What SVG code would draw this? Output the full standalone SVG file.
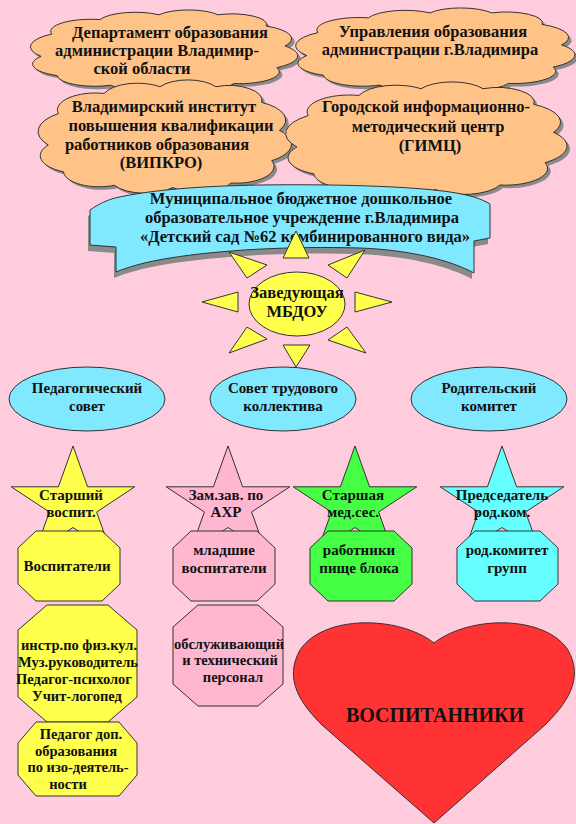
<svg xmlns="http://www.w3.org/2000/svg" xmlns:xlink="http://www.w3.org/1999/xlink" width="576" height="824" viewBox="0 0 576 824">
<style>
.t{font-family:"Liberation Serif","Times New Roman",serif;font-weight:bold;font-size:16.5px;fill:#111;text-anchor:middle}
.m{font-size:15px}
.s{font-size:14.5px}
.ol{stroke:#333;stroke-width:1}
.cl{fill:#FFC287}
.sh{fill:#8a8a8a}
.cy{fill:#80E8FF}
.ye{fill:#FFFF4D}
.pk{fill:#FFB6CF}
.gr{fill:#44FF44}
.cn{fill:#66FFFF}
</style>
<defs>
<path id="cloud" vector-effect="non-scaling-stroke" d="M6,58 A20,20 0 0 1 10,30 A15,15 0 0 1 28,12 A14,14 0 0 1 50,6 A13,13 0 0 1 72,6 A13,13 0 0 1 90,20 A18,18 0 0 1 97,45 A18,18 0 0 1 94,72 A15,15 0 0 1 78,92 A14,14 0 0 1 55,96 A14,14 0 0 1 32,94 A14,14 0 0 1 12,82 A16,16 0 0 1 6,58 Z"/>
<polygon id="star" points="0,-59 14.6,-18.2 61.8,-18.2 23.6,7 38.2,47.7 0,22.5 -38.2,47.7 -23.6,7 -61.8,-18.2 -14.6,-18.2"/>
</defs>
<rect width="576" height="824" fill="#FFCCDD"/>
<g id="connectors"/>

<g id="cloud1">
<use href="#cloud" class="sh" transform="translate(28,13) scale(2.68,0.8)"/>
<use href="#cloud" class="cl ol" transform="translate(25,10) scale(2.68,0.8)"/>
<text class="t" x="170" y="38">Департамент образования</text>
<text class="t" x="157" y="56">администрации Владимир-</text>
<text class="t" x="142" y="74">ской области</text>
</g>
<g id="cloud2">
<use href="#cloud" class="sh" transform="translate(293,11) scale(2.8,0.82)"/>
<use href="#cloud" class="cl ol" transform="translate(290,8) scale(2.8,0.82)"/>
<text class="t" x="433" y="37">Управления образования</text>
<text class="t" x="430" y="55">администрации г.Владимира</text>
</g>
<g id="cloud3">
<use href="#cloud" class="sh" transform="translate(36,83) scale(2.54,1.12)"/>
<use href="#cloud" class="cl ol" transform="translate(33,80) scale(2.54,1.12)"/>
<text class="t" x="164" y="112">Владимирский институт</text>
<text class="t" x="171" y="131">повышения квалификации</text>
<text class="t" x="157" y="150">работников образования</text>
<text class="t" x="161" y="168">(ВИПКРО)</text>
</g>
<g id="cloud4">
<use href="#cloud" class="sh" transform="translate(283,85) scale(2.82,1.12)"/>
<use href="#cloud" class="cl ol" transform="translate(280,82) scale(2.82,1.12)"/>
<text class="t" x="426" y="112">Городской информационно-</text>
<text class="t" x="428" y="132">методический центр</text>
<text class="t" x="430" y="151">(ГИМЦ)</text>
</g>

<g id="banner">
<path class="sh" transform="translate(-2,6)" d="M90,210 C100,203 108,200 115,198 C150,190 200,186 260,185 C330,184 410,186 450,192 C470,195 482,199 490,204 L490,238 L474,241 L474,273 C450,260 410,250 360,248 C290,246 220,250 170,258 C145,262 128,267 116,272 L116,247 L90,245 Z"/>
<path class="cy ol" d="M90,210 C100,203 108,200 115,198 C150,190 200,186 260,185 C330,184 410,186 450,192 C470,195 482,199 490,204 L490,238 L474,241 L474,273 C450,260 410,250 360,248 C290,246 220,250 170,258 C145,262 128,267 116,272 L116,247 L90,245 Z"/>
<text class="t" x="301" y="204">Муниципальное бюджетное дошкольное</text>
<text class="t" x="302" y="223">образовательное учреждение г.Владимира</text>
<text class="t" x="305" y="242">«Детский сад №62 комбинированного вида»</text>
</g>

<g id="sun" class="ye ol">
<polygon points="296,231 309,258 283,258"/>
<polygon points="283,345 310,345 296,367"/>
<polygon points="202,302 238,292 238,312"/>
<polygon points="392,302 355,292 355,312"/>
<polygon points="229,252 267,265 247,278"/>
<polygon points="365,250 328,265 347,278"/>
<polygon points="229,353 247,327 267,339"/>
<polygon points="366,353 347,327 328,340"/>
<ellipse cx="297" cy="304" rx="48" ry="32"/>
<text class="t" x="297" y="298" stroke="none">Заведующая</text>
<text class="t" x="297" y="317" stroke="none">МБДОУ</text>
</g>

<g id="ped-sovet">
<ellipse class="cy ol" cx="87" cy="399" rx="78" ry="32"/>
<text class="t m" x="87" y="393">Педагогический</text>
<text class="t m" x="87" y="411">совет</text>
</g>
<g id="sovet-trud">
<ellipse class="cy ol" cx="283" cy="399" rx="73" ry="32"/>
<text class="t m" x="283" y="393">Совет трудового</text>
<text class="t m" x="283" y="411">коллектива</text>
</g>
<g id="rod-komitet">
<ellipse class="cy ol" cx="489" cy="399" rx="78" ry="32"/>
<text class="t m" x="489" y="393">Родительский</text>
<text class="t m" x="489" y="411">комитет</text>
</g>

<g id="star1">
<use href="#star" class="ye ol" transform="translate(73,505)"/>
<text class="t m" x="71" y="500">Старший</text>
<text class="t m" x="71" y="517">воспит.</text>
</g>
<g id="star2">
<use href="#star" class="pk ol" transform="translate(228,505)"/>
<text class="t m" x="226" y="500">Зам.зав. по</text>
<text class="t m" x="226" y="517">АХР</text>
</g>
<g id="star3">
<use href="#star" class="gr ol" transform="translate(355,505)"/>
<text class="t m" x="353" y="500">Старшая</text>
<text class="t m" x="353" y="517">мед.сес.</text>
</g>
<g id="star4">
<use href="#star" class="cn ol" transform="translate(502,505)"/>
<text class="t m" x="502" y="500">Председатель</text>
<text class="t m" x="502" y="517">род.ком.</text>
</g>

<g id="oct1">
<polygon class="ye ol" points="36,531 102,531 120,548 120,584 102,601 36,601 18,584 18,548"/>
<text class="t m" x="67" y="571">Воспитатели</text>
</g>
<g id="oct2">
<polygon class="pk ol" points="191,531 257,531 275,548 275,584 257,601 191,601 173,584 173,548"/>
<text class="t m" x="224" y="555">младшие</text>
<text class="t m" x="224" y="573">воспитатели</text>
</g>
<g id="oct3">
<polygon class="gr ol" points="328,531 394,531 412,548 412,584 394,601 328,601 310,584 310,548"/>
<text class="t m" x="359" y="555">работники</text>
<text class="t m" x="359" y="573">пище блока</text>
</g>
<g id="oct4">
<polygon class="cn ol" points="475,531 540,531 558,548 558,584 540,601 475,601 457,584 457,548"/>
<text class="t m" x="507" y="555">род.комитет</text>
<text class="t m" x="507" y="573">групп</text>
</g>

<g id="oct5">
<polygon class="ye ol" points="47,605 108,605 137,630 137,697 108,722 47,722 18,697 18,630"/>
<text class="t s" x="79" y="650">инстр.по физ.кул.</text>
<text class="t s" x="78" y="667">Муз.руководитель</text>
<text class="t s" x="74" y="684">Педагог-психолог</text>
<text class="t s" x="77" y="701">Учит-логопед</text>
</g>
<g id="oct6">
<polygon class="ye ol" points="36,722 119,722 137,743 137,775 119,796 36,796 18,775 18,743"/>
<text class="t s" x="81" y="739">Педагог доп.</text>
<text class="t s" x="76" y="756">образования</text>
<text class="t s" x="78" y="772">по изо-деятель-</text>
<text class="t s" x="68" y="789">ности</text>
</g>
<g id="oct7">
<polygon class="pk ol" points="198,605 258,605 283,627 283,684 258,706 198,706 173,684 173,627"/>
<text class="t s" x="229" y="649">обслуживающий</text>
<text class="t s" x="230" y="665">и технический</text>
<text class="t s" x="233" y="682">персонал</text>
</g>

<g id="heart">
<path class="ol" fill="#FF3333" d="M434,643 C470,615 545,615 568,650 C585,680 565,705 545,725 L434,823 L322,725 C302,705 283,680 300,650 C323,615 398,615 434,643 Z"/>
<text class="t" x="435" y="722" style="font-size:20px">ВОСПИТАННИКИ</text>
</g>
</svg>
